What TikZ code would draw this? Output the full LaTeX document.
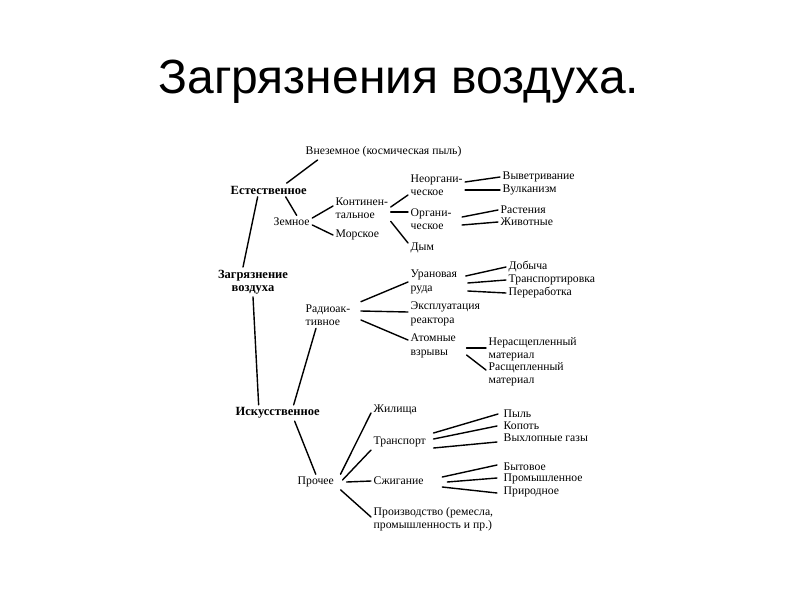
\documentclass[tikz,border=0pt]{standalone}
\usepackage{fontspec}
\setmainfont{Liberation Serif}
\newfontfamily\titlefont{Liberation Sans}
\newcommand{\schemefont}{\fontsize{11.7}{13.5}\selectfont}
\newcommand{\headfont}{\fontsize{12.5}{13.5}\selectfont\bfseries}

\begin{document}
\begin{tikzpicture}[x=1pt,y=-1pt,line cap=round,line join=round,line width=1.4pt,
  lbl/.style={anchor=west,inner sep=2pt,align=left,font=\schemefont},
  head/.style={anchor=west,inner sep=2pt,align=center,font=\headfont}]
  \fill[white] (0,0) rectangle (800,600);
  \path[use as bounding box] (0,0) rectangle (800,600);
  \node[anchor=base,inner sep=0pt,font=\titlefont\fontsize{48}{50}\selectfont] (title) at (399,93) {Загрязнения воздуха.};

  % Natural sources.
  \node[lbl] (vnez) at (303,152) {Внеземное (космическая пыль)};
  \node[head] (est) at (228,190) {Естественное};
  \node[lbl] (zemn) at (271,222) {Земное};
  \node[lbl] (kont) at (333,208) {Континен-\\тальное};
  \node[lbl] (mor) at (333,235) {Морское};
  \node[lbl] (neorg) at (408,185) {Неоргани-\\ческое};
  \node[lbl] (org) at (408,219) {Органи-\\ческое};
  \node[lbl] (dym) at (408,248) {Дым};
  \node[lbl] (vyv) at (500,177) {Выветривание};
  \node[lbl] (vulk) at (500,190) {Вулканизм};
  \node[lbl] (rast) at (498,210) {Растения};
  \node[lbl] (jiv) at (498,222) {Животные};

  \draw ([xshift=18pt]est.north) -- ([xshift=-66pt]vnez.south);
  \draw ([xshift=17pt]est.south) -- ([xshift=5pt]zemn.north);
  \draw ([yshift=4pt]zemn.east) -- ([yshift=2pt]kont.west);
  \draw ([yshift=-3pt]zemn.east) -- (mor.west);
  \draw ([yshift=1pt]kont.east) -- ([yshift=-10pt]neorg.west);
  \draw ([yshift=-4pt]kont.east) -- ([yshift=7pt]org.west);
  \draw (kont.south east) -- ([yshift=5pt]dym.west);
  \draw ([yshift=3pt]neorg.east) -- (vyv.west);
  \draw ([yshift=-5pt]neorg.east) -- (vulk.west);
  \draw ([xshift=8pt,yshift=2pt]org.east) -- (rast.west);
  \draw ([xshift=8pt,yshift=-6pt]org.east) -- (jiv.west);

  % Root and radioactive sources.
  \node[head,anchor=center] (zagr) at (253,282) {Загрязнение\\воздуха};
  \node[lbl] (rad) at (303,315) {Радиоак-\\тивное};
  \node[lbl] (uran) at (408,282) {Урановая\\руда};
  \node[lbl] (expl) at (408,314) {Эксплуатация\\реактора};
  \node[lbl] (atom) at (408,346) {Атомные\\взрывы};
  \node[lbl] (dob) at (506,267) {Добыча};
  \node[lbl] (trans) at (506,280) {Транспортировка};
  \node[lbl] (pere) at (506,293) {Переработка};
  \node[lbl] (nerasc) at (486,349) {Нерасщепленный\\материал};
  \node[lbl] (rasc) at (486,374) {Расщепленный\\материал};

  \draw ([xshift=-11pt]est.south) -- ([xshift=-10pt]zagr.north);
  \draw ([xshift=8pt]rad.north east) -- (uran.west);
  \draw ([xshift=8pt,yshift=4pt]rad.east) -- ([yshift=2pt]expl.west);
  \draw ([xshift=8pt,yshift=-5pt]rad.east) -- ([yshift=6pt]atom.west);
  \draw ([xshift=6pt,yshift=6pt]uran.east) -- (dob.west);
  \draw ([xshift=8pt,yshift=-1pt]uran.east) -- (trans.west);
  \draw ([xshift=8pt,yshift=-9pt]uran.east) -- (pere.west);
  \draw ([xshift=8pt,yshift=-2pt]atom.east) -- ([yshift=1pt]nerasc.west);
  \draw ([xshift=8pt,yshift=-9pt]atom.east) -- ([yshift=4pt]rasc.west);

  % Man-made sources.
  \node[head] (isk) at (233,413) {Искусственное};
  \node[lbl] (proch) at (295,482) {Прочее};
  \node[lbl] (jil) at (371,410) {Жилища};
  \node[lbl] (transp) at (371,442) {Транспорт};
  \node[lbl] (szh) at (371,481) {Сжигание};
  \node[lbl] (proizv) at (371,519) {Производство (ремесла,\\промышленность и пр.)};
  \node[lbl] (pyl) at (501,414) {Пыль};
  \node[lbl] (kop) at (501,426) {Копоть};
  \node[lbl] (vyh) at (501,438) {Выхлопные газы};
  \node[lbl] (byt) at (501,467) {Бытовое};
  \node[lbl] (prom) at (501,479) {Промышленное};
  \node[lbl] (prir) at (501,492) {Природное};

  \draw (zagr.south) -- ([xshift=-19pt]isk.north);
  \draw ([xshift=-12pt]rad.south) -- ([xshift=16pt]isk.north);
  \draw ([xshift=17pt]isk.south) -- (proch.north);
  \draw ([xshift=4pt]proch.north east) -- ([yshift=-3pt]jil.west);
  \draw ([xshift=6pt,yshift=2pt]proch.east) -- ([yshift=-8pt]transp.west);
  \draw ([xshift=10pt]proch.east) -- (szh.west);
  \draw ([xshift=4pt]proch.south east) -- ([yshift=2pt]proizv.west);
  \draw ([xshift=5pt,yshift=9pt]transp.east) -- ([xshift=-3pt]pyl.west);
  \draw ([xshift=5pt,yshift=3pt]transp.east) -- ([xshift=-4pt]kop.west);
  \draw ([xshift=5pt,yshift=-6pt]transp.east) -- ([xshift=-4pt,yshift=-4pt]vyh.west);
  \draw ([xshift=16pt,yshift=4pt]szh.east) -- ([xshift=-4pt,yshift=2pt]byt.west);
  \draw ([xshift=21pt,yshift=-1pt]szh.east) -- ([xshift=-4pt,yshift=1pt]prom.west);
  \draw ([xshift=16pt,yshift=-6pt]szh.east) -- ([xshift=-4pt,yshift=-1pt]prir.west);
\end{tikzpicture}
\end{document}
